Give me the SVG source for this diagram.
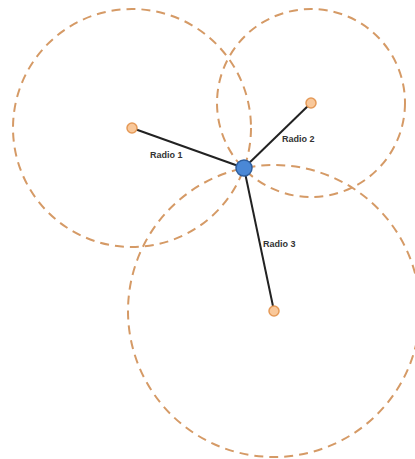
<svg xmlns="http://www.w3.org/2000/svg" width="415" height="459" viewBox="0 0 415 459">
<style>
.range{fill:none;stroke:#d59a66;stroke-width:2;stroke-dasharray:9 6}
.radio{fill:#f9c89a;stroke:#e59a58;stroke-width:1.5}
.link{stroke:#222;stroke-width:2}
.lbl{font-family:"Liberation Sans",Arial,sans-serif;font-size:9px;font-weight:bold;fill:#333}
</style>
<rect width="415" height="459" fill="#fff"/>
<g id="ranges">
<circle class="range" cx="132" cy="128" r="119"/>
<circle class="range" cx="311" cy="103" r="94"/>
<circle class="range" cx="274" cy="311" r="146"/>
</g>
<g id="connectors">
<line class="link" x1="132" y1="128" x2="244" y2="168"/>
<line class="link" x1="311" y1="103" x2="244" y2="168"/>
<line class="link" x1="274" y1="311" x2="244" y2="168"/>
<text class="lbl" x="150" y="158">Radio 1</text>
<text class="lbl" x="282" y="142">Radio 2</text>
<text class="lbl" x="263" y="247">Radio 3</text>
</g>
<g id="radio1"><circle class="radio" cx="132" cy="128" r="5"/></g>
<g id="radio2"><circle class="radio" cx="311" cy="103" r="5"/></g>
<g id="radio3"><circle class="radio" cx="274" cy="311" r="5"/></g>
<g id="device"><circle cx="244" cy="168" r="8" fill="#4a88d6" stroke="#2f5f9e" stroke-width="1.5"/></g>
</svg>
